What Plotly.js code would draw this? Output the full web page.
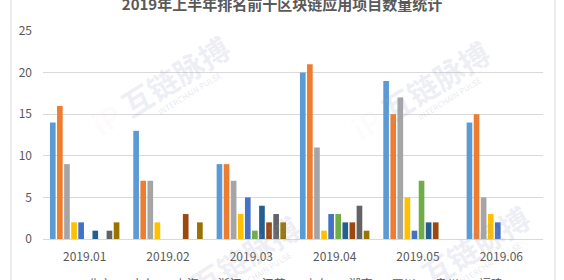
<!DOCTYPE html>
<html>
<head>
<meta charset="utf-8">
<script src="https://cdn.plot.ly/plotly-3.0.1.min.js"></script>
<style>
  html, body { margin: 0; padding: 0; background: #ffffff; }
  #chart { width: 564px; height: 280px; }
</style>
</head>
<body>
<div id="chart"></div>
<script>
// Months on the category axis
const months = ['2019.01', '2019.02', '2019.03', '2019.04', '2019.05', '2019.06'];

// Top-ten regions, in legend order
const regions = ['北京', '广东', '上海', '浙江', '江苏', '山东', '湖南', '四川', '贵州', '福建'];

// Monthly project counts for each region
const beijing   = [14, 13, 9, 20, 19, 14];
const guangdong = [16, 7, 9, 21, 15, 15];
const shanghai  = [9, 7, 7, 11, 17, 5];
const zhejiang  = [2, 2, 3, 1, 5, 3];
const jiangsu   = [2, 0, 5, 3, 1, 2];
const shandong  = [0, 0, 1, 3, 7, 0];
const hunan     = [1, 0, 4, 2, 2, 0];
const sichuan   = [0, 3, 2, 2, 2, 0];
const guizhou   = [1, 0, 3, 4, 0, 0];
const fujian    = [2, 2, 2, 1, 0, 0];

const yTicks = [0, 5, 10, 15, 20, 25];

const seriesValues = [beijing, guangdong, shanghai, zhejiang, jiangsu,
                      shandong, hunan, sichuan, guizhou, fujian];
const palette = ['#5B9BD5', '#ED7D31', '#A5A5A5', '#FFC000', '#4472C4',
                 '#70AD47', '#255E91', '#9E480E', '#636363', '#997300'];

const FONT = '"Noto Sans CJK SC", "Noto Sans", sans-serif';

const traces = regions.map((name, i) => ({
  type: 'bar',
  name: name,
  x: months,
  y: seriesValues[i],
  marker: { color: palette[i], line: { width: 0 } },
  showlegend: false,
  hoverinfo: 'x+y+name'
}));

// Legend row along the bottom edge, laid out by index
const legendAnnotations = regions.map((name, i) => ({
  xref: 'paper', yref: 'paper',
  x: 0.065 + i * 0.087, y: -0.163,
  xanchor: 'left', yanchor: 'top',
  showarrow: false,
  text: '<span style="color:' + palette[i] + ';font-size:7px">■</span> ' + name,
  font: { family: FONT, size: 12, color: '#595959' }
}));

// Faint publisher watermarks
const marks = [
  { x: 0.234, y: 0.74 },
  { x: 0.754, y: 0.716 },
  { x: 0.374, y: -0.125 },
  { x: 0.834, y: -0.077 }
];
const watermarkAnnotations = [];
marks.forEach(m => {
  watermarkAnnotations.push({
    xref: 'paper', yref: 'paper', x: m.x, y: m.y,
    xanchor: 'center', yanchor: 'middle',
    showarrow: false, textangle: -32,
    text: '<span style="color:rgba(232,150,160,0.22)"><b>iP</b></span> <b>互链脉搏</b>',
    font: { family: FONT, size: 30, color: 'rgba(150,158,185,0.18)' }
  });
  watermarkAnnotations.push({
    xref: 'paper', yref: 'paper', x: m.x + 0.058, y: m.y - 0.04,
    xanchor: 'center', yanchor: 'middle',
    showarrow: false, textangle: -32,
    text: 'INTERCHAIN PULSE',
    font: { family: FONT, size: 8, color: 'rgba(150,158,185,0.25)' }
  });
});

const layout = {
  width: 564,
  height: 280,
  margin: { l: 43, r: 21, t: 31, b: 41, pad: 0 },
  paper_bgcolor: '#ffffff',
  plot_bgcolor: '#ffffff',
  font: { family: FONT, size: 12, color: '#595959' },
  title: {
    text: '<b>2019年上半年排名前十区块链应用项目数量统计</b>',
    font: { family: FONT, size: 15, color: '#595959' },
    x: 0.5, xref: 'container', xanchor: 'center',
    y: 0.982, yref: 'container', yanchor: 'middle'
  },
  barmode: 'group',
  bargap: 0.15,
  bargroupgap: 0.2,
  xaxis: {
    type: 'category',
    showgrid: false,
    zeroline: false,
    showline: false,
    ticks: '',
    ticklabelstandoff: 9,
    tickfont: { family: FONT, size: 12, color: '#595959' }
  },
  yaxis: {
    range: [0, 25],
    tickvals: yTicks,
    ticktext: yTicks.map(String),
    showgrid: true,
    gridcolor: '#D9D9D9',
    gridwidth: 1,
    zeroline: true,
    zerolinecolor: '#D9D9D9',
    zerolinewidth: 1,
    showline: false,
    ticks: '',
    ticklabelstandoff: 10,
    tickfont: { family: FONT, size: 12, color: '#595959' }
  },
  shapes: [{
    type: 'rect', xref: 'paper', yref: 'paper',
    x0: -0.064, x1: 1.024, y0: -0.5, y1: 1.5,
    line: { color: '#D9D9D9', width: 1 },
    fillcolor: 'rgba(0,0,0,0)',
    layer: 'below'
  }],
  annotations: watermarkAnnotations.concat(legendAnnotations)
};

Plotly.newPlot('chart', traces, layout, { staticPlot: true, displayModeBar: false });
</script>
</body>
</html>
